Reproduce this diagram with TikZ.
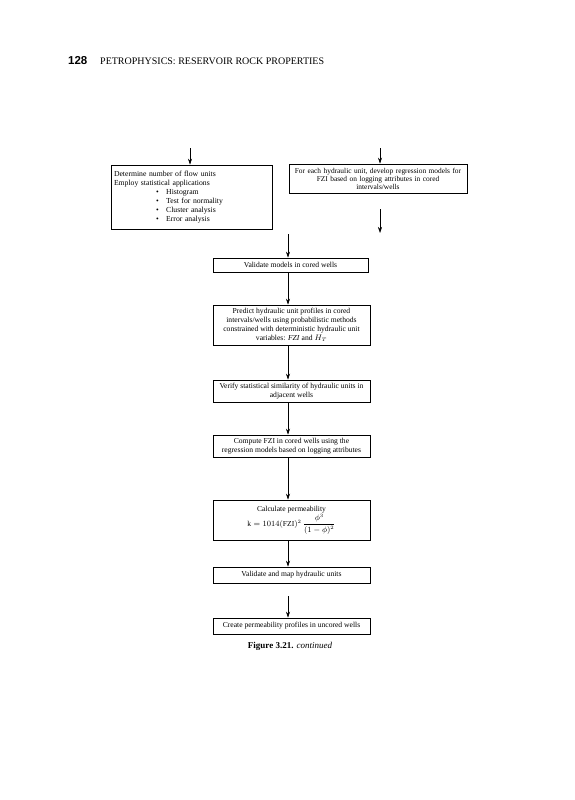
\documentclass[tikz,border=0pt]{standalone}
\usepackage{fontspec}
\setmainfont{Liberation Serif}
\newfontfamily\headsans{Liberation Sans}
\usetikzlibrary{arrows.meta}
\begin{document}
\begin{tikzpicture}[x=1pt,y=-1pt,
  box/.style={draw, line width=0.6pt, inner sep=2pt, font=\fontsize{7.6}{9}\selectfont, align=center},
  arr/.style={line width=0.6pt, shorten <=1pt, -{Stealth[length=6pt,width=4pt]}},
  plain/.style={inner sep=0pt}
]
\useasboundingbox[fill=white] (0,0) rectangle (574,800);

% header
\node[plain, anchor=base west] (pg) at (68,64) {\headsans\bfseries\fontsize{11.5}{12}\selectfont 128};
\node[plain, anchor=base west] (run) at (100,64) {\fontsize{10}{11}\selectfont PETROPHYSICS: RESERVOIR ROCK PROPERTIES};

% top boxes
\node[box, minimum width=161pt, minimum height=64pt, text width=155pt, align=left, font=\fontsize{7.7}{9}\selectfont] (flow) at (191.5,197)
 {Determine number of flow units\\
  Employ statistical applications\\
  \hspace*{42pt}\textbullet\hspace{7.5pt}Histogram\\
  \hspace*{42pt}\textbullet\hspace{7.5pt}Test for normality\\
  \hspace*{42pt}\textbullet\hspace{7.5pt}Cluster analysis\\
  \hspace*{42pt}\textbullet\hspace{7.5pt}Error analysis};
\node[box, minimum width=178pt, minimum height=29pt, text width=174pt, font=\fontsize{7.4}{8}\selectfont] (reg) at (378,178.5)
 {For each hydraulic unit, develop regression models for\\
  FZI based on logging attributes in cored\\
  intervals/wells};

% column boxes
\node[box, minimum width=155pt, minimum height=14pt] (val) at (290.5,265) {Validate models in cored wells};
\node[box, minimum width=157pt, minimum height=40pt] (pred) at (291.5,325)
 {Predict hydraulic unit profiles in cored\\
  intervals/wells using probabilistic methods\\
  constrained with deterministic hydraulic unit\\
  variables: \textit{FZI} and $H_T$};
\node[box, minimum width=157pt, minimum height=22pt] (ver) at (291.5,391)
 {Verify statistical similarity of hydraulic units in\\ adjacent wells};
\node[box, minimum width=157pt, minimum height=22pt] (comp) at (291.5,446)
 {Compute FZI in cored wells using the\\ regression models based on logging attributes};
\node[box, minimum width=157pt, minimum height=40pt] (calc) at (291.5,520)
 {Calculate permeability\\[1pt]
  $\mathrm{k} = 1014(\mathrm{FZI})^2\,\displaystyle\frac{\phi^3}{(1-\phi)^2}$};
\node[box, minimum width=157pt, minimum height=16pt] (map) at (291.5,575) {Validate and map hydraulic units};
\node[box, minimum width=157pt, minimum height=16pt] (cre) at (291.5,626) {Create permeability profiles in uncored wells};

% caption
\node[plain] (cap) at (290,646) {\fontsize{9}{10}\selectfont\textbf{Figure 3.21.} \textit{continued}};

% connectors
\coordinate (a1) at (190,147);
\coordinate (a2) at (380,147);
\coordinate (r1) at (380,208);
\coordinate (r2) at (380,233);
\coordinate (m1) at (288,233);
\coordinate (v1) at (288,595);
\coordinate (cx) at (288,0);

\draw[arr] (a1) -- (a1 |- flow.north);
\draw[arr] (a2) -- (a2 |- reg.north);
\draw[arr] (r1) -- (r2);
\draw[arr] (m1) -- (m1 |- val.north);
\draw[arr] (cx |- val.south) -- (cx |- pred.north);
\draw[arr] (cx |- pred.south) -- (cx |- ver.north);
\draw[arr] (cx |- ver.south) -- (cx |- comp.north);
\draw[arr] (cx |- comp.south) -- (cx |- calc.north);
\draw[arr] (cx |- calc.south) -- (cx |- map.north);
\draw[arr] (v1) -- (v1 |- cre.north);
\end{tikzpicture}
\end{document}
